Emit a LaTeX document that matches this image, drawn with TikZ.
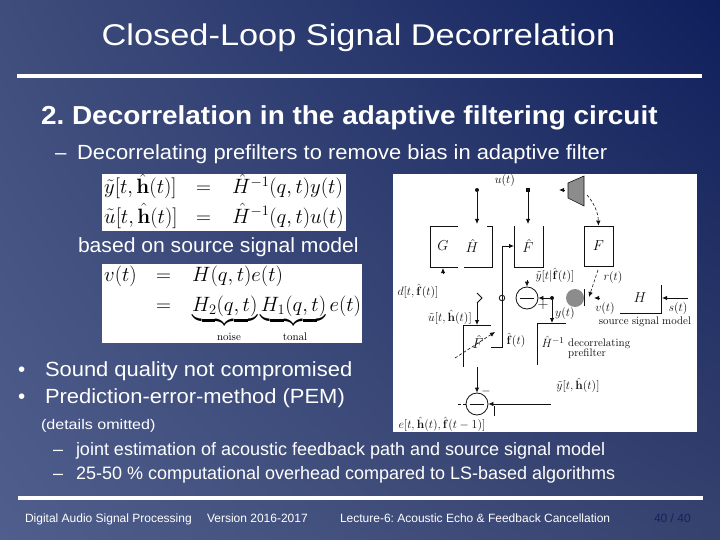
\documentclass[tikz,border=0pt]{standalone}
\usepackage[no-math]{fontspec}
\usepackage{amsmath}
\usepackage{graphicx}
\setmainfont{Liberation Sans}
\frenchspacing
\usetikzlibrary{arrows.meta,shadings}
\definecolor{bgUR}{HTML}{0F1F5C}
\definecolor{bgUL}{HTML}{3F4D7C}
\definecolor{bgLL}{HTML}{4F5E8C}
\definecolor{bgLR}{HTML}{36426E}
\definecolor{pageno}{HTML}{14235F}
\definecolor{spk}{HTML}{8C8C8C}
\definecolor{inkc}{HTML}{111111}
\newcommand{\fsz}[1]{\fontsize{#1}{#1}\selectfont}
\newcommand{\sx}[2]{\scalebox{#1}[1]{#2}}
\tikzset{
  x=1pt,y=-1pt,
  txt/.style={anchor=base west,inner sep=0pt,outer sep=0pt,text=white},
  slidetitle/.style={anchor=base,inner sep=0pt,text=white,font=\fsz{30}},
  heading/.style={txt,font=\bfseries\fsz{26}},
  lvlone/.style={txt,font=\fsz{20.5}},
  lvlbul/.style={txt,font=\fsz{20.5}},
  lvltwo/.style={txt,font=\fsz{18}},
  smalltxt/.style={txt,font=\fsz{14}},
  foot/.style={txt,font=\fsz{12}},
  rulebar/.style={draw=white,line width=3.5pt},
  panel/.style={fill=white,draw=none},
  eqn/.style={anchor=base west,inner sep=0pt,text=black},
  wire/.style={draw=inkc,line width=0.8pt},
  sigarrow/.style={wire,-{Latex[length=5pt,width=4.5pt]}},
  sigdash/.style={draw=inkc,line width=0.6pt,densely dashed,-{Latex[length=5pt,width=4.5pt]}},
  jdot/.style={circle,fill=inkc,minimum size=4pt,inner sep=0pt},
  sumc/.style={circle,draw=inkc,line width=0.8pt,minimum size=22pt,inner sep=0pt,font=\fsz{11}},
  lab/.style={inner sep=0pt,text=inkc,font=\fsz{13}},
  blk/.style={inner sep=0pt,text=inkc,font=\fsz{15}},
  labs/.style={inner sep=0pt,text=inkc,font=\fsz{11}},
}
\begin{document}
\begin{tikzpicture}
\useasboundingbox (0,0) rectangle (720,540);
\shade[upper left=bgUL,upper right=bgUR,lower left=bgLL,lower right=bgLR] (0,0) rectangle (720,540);
% rules
\coordinate (r1a) at (17,76); \coordinate (r1b) at (702,76);
\coordinate (r2a) at (18,498); \coordinate (r2b) at (703,498);
\draw[rulebar] (r1a) -- (r1b);
\draw[rulebar] (r2a) -- (r2b);
% text
\node[slidetitle] (title) at (358.5,46) {\sx{1.145}{Closed-Loop Signal Decorrelation}};
\node[heading] (head) at (41,125) {\sx{1.075}{2. Decorrelation in the adaptive filtering circuit}};
\node[lvlone] (d1) at (55,160) {–};
\node[lvlone] (t1) at (77,160) {\sx{1.07}{Decorrelating prefilters to remove bias in adaptive filter}};
\node[lvlone] (t2) at (78,252) {\sx{1.03}{based on source signal model}};
\node[lvlbul] (b1) at (18,376) {•};
\node[lvlbul] (t3) at (45,376) {\sx{1.07}{Sound quality not compromised}};
\node[lvlbul] (b2) at (18,403) {•};
\node[lvlbul] (t4) at (45,403) {\sx{1.07}{Prediction-error-method (PEM)}};
\node[smalltxt] (t5) at (41,429) {\sx{1.15}{(details omitted)}};
\node[lvltwo] (d2) at (53,455) {–};
\node[lvltwo] (t6) at (76,455) {joint estimation of acoustic feedback path and source signal model};
\node[lvltwo] (d3) at (53,479) {–};
\node[lvltwo] (t7) at (76,479) {25-50 \% computational overhead compared to LS-based algorithms};
\node[foot] (f1) at (25,522) {Digital Audio Signal Processing};
\node[foot] (f2) at (207,522) {Version 2016-2017};
\node[foot] (f3) at (340,522) {Lecture-6: Acoustic Echo \& Feedback Cancellation};
\node[foot,text=pageno] (f4) at (654,522) {40 / 40};
% equations
\fill[panel] (102,174) rectangle (346,231);
\node[eqn] (e1) at (104,194) {\fsz{20}$\tilde{y}[t,\hat{\mathbf h}(t)]$};
\node[eqn] (e1b) at (196,194) {\fsz{20}$=$};
\node[eqn] (e1c) at (232,194) {\fsz{20}$\hat{H}^{-1}(q,t)y(t)$};
\node[eqn] (e2) at (104,223) {\fsz{20}$\tilde{u}[t,\hat{\mathbf h}(t)]$};
\node[eqn] (e2b) at (196,223) {\fsz{20}$=$};
\node[eqn] (e2c) at (232,223) {\fsz{20}$\hat{H}^{-1}(q,t)u(t)$};
\fill[panel] (102,264) rectangle (362,343);
\node[eqn] (e3) at (104,281) {\fsz{20}$v(t)$};
\node[eqn] (e3b) at (156,281) {\fsz{20}$=$};
\node[eqn] (e3c) at (192,281) {\fsz{20}$H(q,t)e(t)$};
\node[eqn] (e4b) at (156,311) {\fsz{20}$=$};
\node[eqn] (e4c) at (192,311) {\fsz{20}$\underbrace{H_2(q,t)}\underbrace{H_1(q,t)}e(t)$};
\node[inner sep=0pt,font=\fsz{11},text=black] (nz) at (229,337) {$\mathrm{noise}$};
\node[inner sep=0pt,font=\fsz{11},text=black] (tn) at (295,337) {$\mathrm{tonal}$};
% diagram panel
\fill[panel] (393,174) rectangle (697,432);
% boxes (open outlines)
\draw[wire] (458,226) -- (430,226) -- (430,267) -- (458,267);
\draw[wire] (464,267) -- (492,267) -- (492,226) -- (487,226);
\draw[wire] (514,226) -- (514,267) -- (543,267) -- (543,226);
\node[draw=inkc,line width=0.8pt,minimum width=29pt,minimum height=40pt,inner sep=0pt,font=\fsz{15}] (F) at (598.5,246) {$F$};
\node[blk] (G) at (443,246) {$G$};
\node[blk] (Hh) at (472,246) {$\hat H$};
\node[blk] (Fh) at (528,246) {$\hat F$};
% speaker
\draw[fill=spk,draw=inkc,line width=0.6pt] (568,183) -- (584,176) -- (584,206) -- (568,198) -- cycle;
\coordinate (spkL) at (568,190); \coordinate (spkS) at (587,195);
% top signals
\node[lab] (ut) at (505,181) {$u(t)$};
\node[jdot] (j1) at (477,190) {};
\node[jdot,rectangle,minimum size=4pt] (j2) at (528,190) {};
\coordinate (hIn) at (477,224); \coordinate (fIn) at (528,224);
\draw[sigarrow] (j1) -- (hIn);
\draw[sigarrow] (j2) -- (fIn);
\coordinate (spkArr) at (559,190);
\draw[sigarrow] (565,190) -- (spkArr);
\draw[sigdash] (spkS) .. controls (594,203) and (598,212) .. (F.north);
% sums
\node[sumc] (S1) at (527,298) {};
\draw[wire] (520,298) -- (534,298);
\node[lab,font=\fsz{15}] (plus) at (543,305) {$+$};
\node[jdot] (j3) at (552,298) {};
\draw[sigarrow] (550,298) -- (S1.east);
\node[circle,fill=spk,draw=none,minimum size=18pt,inner sep=0pt] (mic) at (575,298) {};
\draw[wire] (584,289) -- (584,306);
\coordinate (rEnd) at (589,297);
\coordinate (rStart) at (598,270);
\draw[sigdash] (rStart) -- (rEnd);
\draw[sigarrow] (600,298) -- (594,298);
\node[lab] (ytil) at (555,275) {$\tilde y[t|\hat{\mathbf f}(t)]$};
\node[lab] (rt) at (613,277) {$r(t)$};
\node[lab] (dl) at (418,291) {$d[t,\hat{\mathbf f}(t)]$};
\coordinate (gb) at (443,274);
\draw[sigarrow] (gb) -- (443,268);
\draw[sigarrow] (527,280) -- (S1.north);
% H box
\node[blk] (H) at (640,298) {$H$};
\draw[wire] (620,313) -- (661,313) -- (661,285);
\draw[sigarrow] (688,298) -- (662,298);
\node[lab] (st) at (678,308) {$s(t)$};
\node[lab] (vt) at (605,308) {$v(t)$};
\node[labs] (ssm) at (645,322) {$\mathrm{source\ signal\ model}$};
\node[lab] (yt) at (565,313) {$y(t)$};
% feedback f-hat
\node[lab] (fhat) at (516,340) {$\hat{\mathbf f}(t)$};
\draw[wire,-{Latex[length=5pt,width=4.5pt]}] (491,347) -- (502,347) -- (502,246) -- (514,246);
\draw[wire] (502,298) circle[radius=2.8pt];
% P-hat filter
\draw[wire] (491,325) -- (463,325) -- (463,367);
\node[blk] (Ph) at (478,342) {$\hat F$};
\draw[sigdash] (455,358) -- (495,332);
\node[lab] (ul) at (450,317) {$\tilde u[t,\hat{\mathbf h}(t)]$};
\coordinate (k1) at (477,293); \coordinate (k2) at (482,298); \coordinate (k3) at (477,303);
\draw[wire] (k1) -- (k2) -- (k3);
\draw[sigarrow] (k3) -- (477,325);
% H inverse filter
\draw[wire] (566,323) -- (537,323) -- (537,365);
\node[lab] (Hi) at (553,342) {$\hat H^{-1}$};
\node[labs,anchor=west] (dp) at (568,344) {$\mathrm{decorrelating}$};
\node[labs,anchor=west] (dp2) at (568,354) {$\mathrm{prefilter}$};
\draw[sigarrow] (552,298) -- (552,323);
% lower sum
\node[sumc] (S2) at (477,404) {};
\draw[wire] (470,404) -- (484,404);
\draw[sigarrow] (477,367) -- (S2.north);
\node[lab] (minus2) at (486,391) {$-$};
\draw[sigarrow] (551,404) -- (S2.east);
\draw[wire] (494,406) -- (494,416);
\draw[wire,densely dashed] (S2.west) -- (457,404);
\node[lab] (yl) at (578,385) {$\tilde y[t,\hat{\mathbf h}(t)]$};
\node[lab] (el) at (442,424) {$e[t,\hat{\mathbf h}(t),\hat{\mathbf f}(t-1)]$};
\end{tikzpicture}
\end{document}
